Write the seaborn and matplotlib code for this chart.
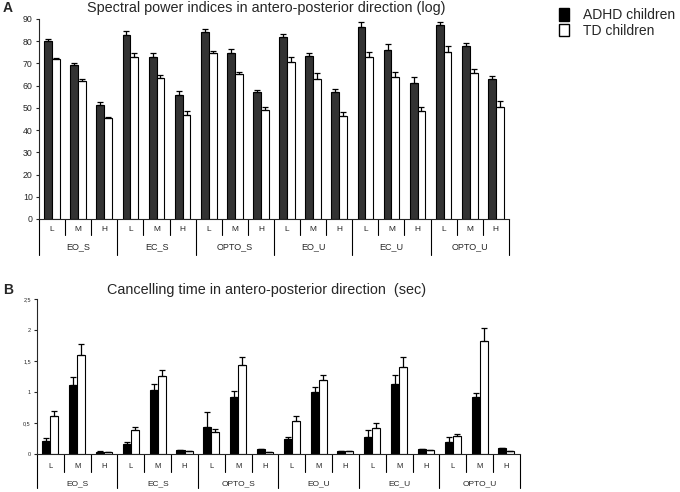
import matplotlib
matplotlib.use("Agg")
import matplotlib.pyplot as plt
import matplotlib.patches as mpatches
import matplotlib.transforms as mtransforms
import numpy as np
import pandas as pd
import seaborn as sns

# 데이터
GROUPS = ["EO_S", "EC_S", "OPTO_S", "EO_U", "EC_U", "OPTO_U"]
BANDS = ["L", "M", "H"]
HUES = ["ADHD children", "TD children"]

spec_adhd = [80, 69.5, 51.2, 83, 73, 56, 84.2, 74.8, 57.2, 81.9, 73.3, 57.1, 86.4, 76.2, 61.4, 87.3, 78, 62.8]
spec_adhd_err = [0.9, 0.9, 1.5, 1.5, 1.6, 1.6, 1.5, 1.5, 1.0, 1.35, 1.35, 1.5, 2.1, 2.4, 2.7, 1.2, 1.2, 1.7]
spec_td = [72, 62.3, 45.3, 73, 63.6, 47, 74.8, 65.4, 49, 70.6, 63.1, 46.4, 73, 64.1, 48.8, 75.1, 65.6, 50.6]
spec_td_err = [0.6, 0.8, 0.8, 1.5, 1.4, 1.8, 1.0, 0.8, 1.2, 2.4, 2.7, 1.6, 2.2, 2.0, 1.8, 2.9, 2.1, 2.3]

canc_adhd = [0.215, 1.12, 0.04, 0.16, 1.04, 0.065, 0.435, 0.92, 0.08, 0.25, 1.005, 0.05, 0.28, 1.13, 0.075, 0.19, 0.92, 0.095]
canc_adhd_err = [0.05, 0.13, 0.005, 0.04, 0.09, 0.005, 0.24, 0.09, 0.005, 0.03, 0.07, 0.005, 0.11, 0.15, 0.005, 0.09, 0.07, 0.005]
canc_td = [0.62, 1.60, 0.03, 0.38, 1.26, 0.05, 0.36, 1.44, 0.035, 0.53, 1.19, 0.05, 0.42, 1.41, 0.065, 0.29, 1.83, 0.05]
canc_td_err = [0.08, 0.18, 0.005, 0.05, 0.10, 0.005, 0.04, 0.12, 0.005, 0.08, 0.09, 0.005, 0.08, 0.16, 0.005, 0.04, 0.20, 0.005]

spec_ticks = [0, 10, 20, 30, 40, 50, 60, 70, 80, 90]
canc_ticks = [0, 0.5, 1, 1.5, 2, 2.5]
canc_tick_labels = ["0", "0,5", "1", "1,5", "2", "2,5"]

sns.set_style("ticks")
plt.rcParams["font.family"] = ["Liberation Sans", "DejaVu Sans"]


def make_df(adhd, td):
    slots = [f"{g}-{b}" for g in GROUPS for b in BANDS]
    return pd.DataFrame({
        "slot": slots * 2,
        "group": [HUES[0]] * len(slots) + [HUES[1]] * len(slots),
        "value": list(adhd) + list(td),
    }), slots


def draw_panel(ax, adhd, adhd_err, td, td_err, dark, sep_small, sep_big, lab_y, grp_y, lab_fs):
    df, slots = make_df(adhd, td)
    sns.barplot(data=df, x="slot", y="value", hue="group", order=slots, hue_order=HUES,
                palette={HUES[0]: dark, HUES[1]: "white"}, edgecolor="black", linewidth=0.8,
                width=0.6, errorbar=None, legend=False, ax=ax)
    # 한쪽 방향 에러바
    for cont, err in zip(ax.containers, [adhd_err, td_err]):
        xs = [p.get_x() + p.get_width() / 2 for p in cont.patches]
        hs = [p.get_height() for p in cont.patches]
        ax.errorbar(xs, hs, yerr=[np.zeros(len(err)), err], fmt="none", ecolor="black",
                    elinewidth=0.9, capsize=2.2, capthick=0.9)

    ax.set_xlim(-0.5, len(slots) - 0.5)
    ax.set_xlabel("")
    ax.set_ylabel("")
    ax.set_xticks(range(len(slots)))
    ax.set_xticklabels([])
    ax.tick_params(axis="x", length=0)
    sns.despine(ax=ax)

    trans = mtransforms.blended_transform_factory(ax.transData, ax.transAxes)
    for i in range(len(slots) + 1):
        b = i - 0.5
        y1 = sep_big if i % 3 == 0 else sep_small
        ax.plot([b, b], [0, y1], color="black", lw=0.8, transform=trans, clip_on=False)
    for i, s in enumerate(slots):
        ax.text(i, lab_y, BANDS[i % 3], ha="center", va="center", fontsize=lab_fs, transform=trans)
    for g, name in enumerate(GROUPS):
        ax.text(g * 3 + 1, grp_y, name, ha="center", va="center", fontsize=lab_fs + 0.5, transform=trans)


fig = plt.figure(figsize=(6.8, 4.92), dpi=100)
ax_a = fig.add_axes([0.0574, 0.5549, 0.691, 0.4065])
ax_b = fig.add_axes([0.0544, 0.0772, 0.710, 0.3151])

draw_panel(ax_a, spec_adhd, spec_adhd_err, spec_td, spec_td_err, "#333333",
           -0.08, -0.18, -0.055, -0.14, 6)
ax_a.set_ylim(0, 90)
ax_a.set_yticks(spec_ticks)
ax_a.tick_params(axis="y", labelsize=6.3, length=2.5, width=0.8, pad=2)

draw_panel(ax_b, canc_adhd, canc_adhd_err, canc_td, canc_td_err, "black",
           -0.115, -0.22, -0.08, -0.19, 5.5)
ax_b.set_ylim(0, 2.5)
ax_b.set_yticks(canc_ticks)
ax_b.set_yticklabels(canc_tick_labels)
ax_b.tick_params(axis="y", labelsize=4, length=2.5, width=0.8, pad=2)

for ax in (ax_a, ax_b):
    for sp in ("left", "bottom"):
        ax.spines[sp].set_linewidth(0.8)

fig.text(0.392, 0.983, "Spectral power indices in antero-posterior direction (log)",
         ha="center", va="center", fontsize=10.4)
fig.text(0.392, 0.41, "Cancelling time in antero-posterior direction  (sec)",
         ha="center", va="center", fontsize=10.4)
fig.text(0.004, 0.983, "A", ha="left", va="center", fontsize=10, fontweight="bold")
fig.text(0.004, 0.41, "B", ha="left", va="center", fontsize=10, fontweight="bold")

handles = [mpatches.Patch(facecolor="black", edgecolor="black", label=HUES[0]),
           mpatches.Patch(facecolor="white", edgecolor="black", label=HUES[1])]
fig.legend(handles=handles, loc="upper left", bbox_to_anchor=(0.81, 1.0), frameon=False,
           fontsize=10, handlelength=0.7, handleheight=1.0, handletextpad=1.0,
           labelspacing=0.1, borderaxespad=0.2)

fig.savefig("out.png", dpi=100)
